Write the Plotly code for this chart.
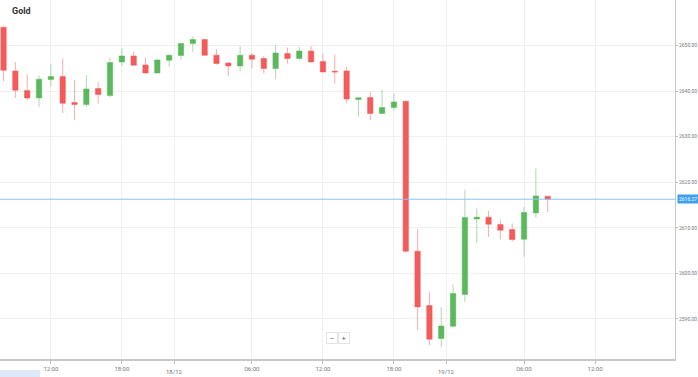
import plotly.graph_objects as go

# ---- data (hourly candles, 17/12 08:00 -> 19/12 08:00) ----
opens = [2654.02, 2644.43, 2640.12, 2638.50, 2642.54, 2643.20, 2637.49, 2637.05, 2640.56, 2639.03,
         2646.40, 2647.72, 2645.74, 2643.99, 2646.77, 2647.83, 2650.44, 2651.32, 2647.87, 2646.18,
         2645.52, 2647.87, 2647.15, 2644.95, 2648.24, 2647.15, 2648.81, 2646.49, 2644.36, 2644.43,
         2638.15, 2638.59, 2635.08, 2636.39, 2637.78, 2604.86, 2592.95, 2585.70, 2588.40, 2595.36,
         2611.95, 2612.32, 2610.72, 2609.62, 2607.49, 2613.27, 2616.93]
highs = [2654.10, 2646.40, 2643.70, 2643.48, 2645.90, 2647.15, 2642.39, 2643.48, 2641.95, 2647.37,
         2649.41, 2648.60, 2647.37, 2646.99, 2648.09, 2650.66, 2652.04, 2651.45, 2649.19, 2646.18,
         2649.85, 2648.38, 2647.72, 2650.07, 2649.56, 2649.69, 2649.85, 2648.24, 2648.03, 2645.30,
         2638.55, 2639.75, 2640.34, 2639.47, 2637.85, 2609.62, 2595.93, 2592.57, 2597.55, 2618.40,
         2614.23, 2613.70, 2611.82, 2610.94, 2614.58, 2623.01, 2616.93]
lows = [2642.17, 2638.50, 2638.00, 2636.53, 2641.07, 2635.21, 2633.61, 2636.53, 2637.27, 2638.72,
        2645.46, 2645.52, 2643.70, 2643.92, 2645.30, 2646.93, 2648.60, 2647.65, 2645.83, 2643.26,
        2644.36, 2644.95, 2643.86, 2642.60, 2646.05, 2646.93, 2646.27, 2644.08, 2641.66, 2637.40,
        2634.33, 2633.61, 2635.08, 2635.80, 2604.49, 2587.53, 2584.23, 2583.86, 2588.25, 2593.74,
        2606.68, 2608.00, 2607.43, 2606.90, 2603.61, 2612.17, 2613.48]
closes = [2644.58, 2640.19, 2638.50, 2642.60, 2643.20, 2637.34, 2637.05, 2640.48, 2639.25, 2646.27,
          2647.72, 2645.68, 2643.99, 2646.84, 2647.87, 2650.44, 2651.32, 2647.87, 2646.05, 2645.52,
          2647.87, 2646.99, 2644.95, 2648.38, 2647.15, 2648.81, 2646.40, 2644.21, 2644.21, 2638.26,
          2638.55, 2635.08, 2636.39, 2637.62, 2604.86, 2592.64, 2585.55, 2588.45, 2595.58, 2612.26,
          2612.32, 2610.79, 2609.47, 2607.43, 2613.35, 2617.00, 2616.27]
candle_index = list(range(len(opens)))

current_price = 2616.27

x_tick_pos = [4, 10, 14.45, 21, 27, 33, 37.45, 44, 50]
x_tick_text = ["12:00", "18:00", "", "06:00", "12:00", "18:00", "", "06:00", "12:00"]
date_pos = [14.45, 37.45]
date_text = ["18/12", "19/12"]
y_tick_vals = [2590, 2600, 2610, 2620, 2630, 2640, 2650]
y_tick_text = ["2590.00", "2600.00", "2610.00", "2620.00", "2630.00", "2640.00", "2650.00"]

GREEN = "#5cb85c"
RED = "#f45b5b"

fig = go.Figure()
fig.add_trace(go.Candlestick(
    x=candle_index, open=opens, high=highs, low=lows, close=closes,
    increasing=dict(fillcolor=GREEN, line=dict(color="rgba(92,184,92,0.5)", width=1)),
    decreasing=dict(fillcolor=RED, line=dict(color="rgba(244,91,91,0.5)", width=1)),
    whiskerwidth=0, showlegend=False, hoverinfo="skip",
))

# current price line
fig.add_hline(y=current_price, line=dict(color="#8cc4f2", width=1.2))

fig.add_annotation(
    x=1.0, xref="paper", y=current_price, yref="y", xanchor="left", yanchor="middle",
    text=f"{current_price:.2f}", showarrow=False, xshift=2,
    font=dict(family="Roboto, Arial", size=5, color="white"),
    bgcolor="#3d9ff0", borderpad=1,
)

# date labels (second row)
for dp, dt in zip(date_pos, date_text):
    fig.add_annotation(
        x=dp, xref="x", y=-13 / 359, yref="paper", yanchor="middle",
        text=dt, showarrow=False,
        font=dict(family="Roboto, Arial", size=6, color="#777"),
    )

# title
fig.add_annotation(
    x=10 / 675, xref="paper", y=1 - 4 / 359, yref="paper", xanchor="left", yanchor="top",
    text="<b>Gold</b>", showarrow=False,
    font=dict(family="Roboto, Arial", size=9, color="#333"),
)

# zoom buttons
for xp, txt in [(332 / 675, "−"), (344 / 675, "+")]:
    fig.add_annotation(
        x=xp, xref="paper", y=(359 - 344) / 359, yref="paper", text=txt, showarrow=False,
        font=dict(family="Roboto, Arial", size=8, color="#666"),
        bgcolor="white", bordercolor="#e4e4e4", borderwidth=1, borderpad=1,
        width=8, height=8,
    )

# bottom-left navigator fragment
fig.add_shape(type="rect", xref="paper", yref="paper",
              x0=0, x1=40 / 675, y0=-18 / 359, y1=-11 / 359,
              fillcolor="#dde9f7", line=dict(width=0), layer="above")

fig.update_layout(
    width=698, height=377,
    margin=dict(l=0, r=23, t=0, b=18, autoexpand=False),
    paper_bgcolor="white", plot_bgcolor="white",
    boxgap=0.35,
    font=dict(family="Roboto, Arial", size=6, color="#777"),
    xaxis=dict(
        range=[-0.3, 56.76], rangeslider=dict(visible=False), automargin=False,
        tickmode="array", tickvals=x_tick_pos, ticktext=x_tick_text,
        showgrid=True, gridcolor="#f0f0f0", gridwidth=1,
        showline=True, linecolor="#c8c8c8", linewidth=2,
        ticks="outside", ticklen=3, tickcolor="#bbb",
        tickfont=dict(size=6, color="#777"), zeroline=False, fixedrange=True,
    ),
    yaxis=dict(
        range=[2581.2, 2660], side="right", automargin=False,
        tickmode="array", tickvals=y_tick_vals, ticktext=y_tick_text,
        showgrid=True, gridcolor="#f0f0f0", gridwidth=1,
        showline=True, linecolor="#c8c8c8", linewidth=1,
        ticks="outside", ticklen=2, tickcolor="#bbb",
        tickfont=dict(size=5, color="#777"), zeroline=False, fixedrange=True,
    ),
)

fig.write_html("out.html", config={"displayModeBar": False})

# remove default page margin so the figure sits at the window's top-left corner
with open("out.html", "r", encoding="utf-8") as fh:
    html = fh.read()
html = html.replace("<head>", "<head><style>html,body{margin:0;padding:0;overflow:hidden;}</style>", 1)
with open("out.html", "w", encoding="utf-8") as fh:
    fh.write(html)
